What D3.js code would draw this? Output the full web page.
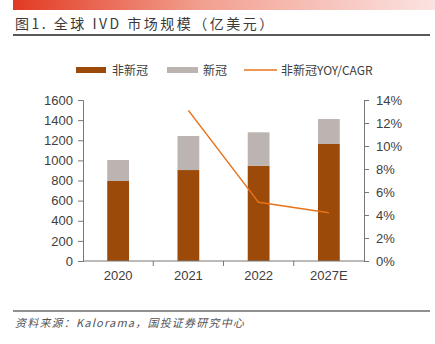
<!DOCTYPE html>
<html>
<head>
<meta charset="utf-8">
<script src="https://cdn.jsdelivr.net/npm/d3@7"></script>
<style>
  body { margin: 0; background: #fff; }
  svg { display: block; }
</style>
</head>
<body>
<div id="chart"></div>
<script>
// data
const years = ["2020", "2021", "2022", "2027E"];
const nonCovid = [795, 904, 947, 1163];
const covid = [209, 338, 332, 248];
const growth = [null, 13.1, 5.1, 4.2];   // %
const leftTicks = [0, 200, 400, 600, 800, 1000, 1200, 1400, 1600];
const rightTicks = [0, 2, 4, 6, 8, 10, 12, 14];

const W = 435, H = 344;
const x0 = 83, x1 = 364, yTop = 100, yBot = 261;

const svg = d3.select("#chart").append("svg")
    .attr("width", W).attr("height", H);

// red gradient header strip
const grad = svg.append("defs").append("linearGradient")
    .attr("id", "hdr").attr("x1", "0%").attr("x2", "100%");
grad.append("stop").attr("offset", "0%").attr("stop-color", "#e23a22");
grad.append("stop").attr("offset", "45%").attr("stop-color", "#f2a090");
grad.append("stop").attr("offset", "100%").attr("stop-color", "#fbe3e1");
svg.append("rect").attr("x", 13).attr("y", 0).attr("width", W - 13).attr("height", 10)
    .attr("fill", "url(#hdr)");

const cjk = "'Noto Sans CJK SC', sans-serif";
svg.append("text").attr("x", 15).attr("y", 29)
    .attr("font-family", cjk).attr("font-size", 14).attr("fill", "#3a3a3a")
    .attr("letter-spacing", 2.5)
    .text("图1. 全球 IVD 市场规模（亿美元）");
svg.append("line").attr("x1", 13).attr("x2", 430).attr("y1", 35).attr("y2", 35)
    .attr("stroke", "#222").attr("stroke-width", 1.5);

// scales
const x = d3.scaleBand().domain(years).range([x0, x1]).paddingInner(0.69).paddingOuter(0.345);
const band = d3.scaleBand().domain(years).range([x0, x1]);
const y = d3.scaleLinear().domain([0, 1600]).range([yBot, yTop]);
const y2 = d3.scaleLinear().domain([0, 14]).range([yBot, yTop]);

const numFont = "'Liberation Sans', Arial, sans-serif";

// bars
const g = svg.append("g");
g.selectAll(".nc").data(years).join("rect")
    .attr("x", d => x(d)).attr("width", x.bandwidth())
    .attr("y", (d, i) => y(nonCovid[i]))
    .attr("height", (d, i) => y(0) - y(nonCovid[i]))
    .attr("fill", "#9b4a0a");
g.selectAll(".cv").data(years).join("rect")
    .attr("x", d => x(d)).attr("width", x.bandwidth())
    .attr("y", (d, i) => y(nonCovid[i] + covid[i]))
    .attr("height", (d, i) => y(nonCovid[i]) - y(nonCovid[i] + covid[i]))
    .attr("fill", "#bcb4b1");

// axes
const axL = svg.append("g").attr("transform", `translate(${x0},0)`)
    .call(d3.axisLeft(y).tickValues(leftTicks).tickSize(5).tickPadding(5).tickFormat(d3.format("d")));
const axR = svg.append("g").attr("transform", `translate(${x1},0)`)
    .call(d3.axisRight(y2).tickValues(rightTicks).tickSize(5).tickPadding(7).tickFormat(d => d + "%"));
const axB = svg.append("g").attr("transform", `translate(0,${yBot})`)
    .call(d3.axisBottom(band).tickSize(0).tickPadding(10));
// tick marks between categories
axB.selectAll(".sep").data(years.slice(1)).join("line")
    .attr("x1", d => band(d)).attr("x2", d => band(d))
    .attr("y1", 0).attr("y2", 5).attr("stroke", "#777");

[axL, axR, axB].forEach(a => {
  a.select(".domain").attr("stroke", "#777");
  a.selectAll(".tick line").attr("stroke", "#777");
  a.selectAll("text").attr("font-family", numFont).attr("font-size", 13).attr("fill", "#404040");
});
axB.select(".domain").attr("d", `M${x0},0H${x1}`);

// growth line
const pts = years.map((d, i) => [band(d) + band.bandwidth() / 2, growth[i]]).filter(p => p[1] != null);
svg.append("path").datum(pts)
    .attr("d", d3.line().x(p => p[0]).y(p => y2(p[1])))
    .attr("fill", "none").attr("stroke", "#e8731a").attr("stroke-width", 1.5);

// legend
const lg = svg.append("g").attr("font-family", cjk).attr("font-size", 12).attr("fill", "#404040");
lg.append("rect").attr("x", 76).attr("y", 67).attr("width", 30).attr("height", 6).attr("fill", "#9b4a0a");
lg.append("text").attr("x", 112).attr("y", 74.5).text("非新冠");
lg.append("rect").attr("x", 167).attr("y", 67).attr("width", 31).attr("height", 6).attr("fill", "#bcb4b1");
lg.append("text").attr("x", 203).attr("y", 74.5).text("新冠");
lg.append("line").attr("x1", 244).attr("x2", 277).attr("y1", 70).attr("y2", 70)
    .attr("stroke", "#e8731a").attr("stroke-width", 1.5);
lg.append("text").attr("x", 281).attr("y", 74.5).text("非新冠YOY/CAGR");

// footer
svg.append("line").attr("x1", 13).attr("x2", 430).attr("y1", 311).attr("y2", 311)
    .attr("stroke", "#222").attr("stroke-width", 1.2);
svg.append("text").attr("x", 15).attr("y", 327)
    .attr("font-family", cjk).attr("font-size", 11).attr("font-style", "italic").attr("fill", "#555")
    .attr("letter-spacing", 1.2)
    .text("资料来源：Kalorama，国投证券研究中心");
</script>
</body>
</html>
